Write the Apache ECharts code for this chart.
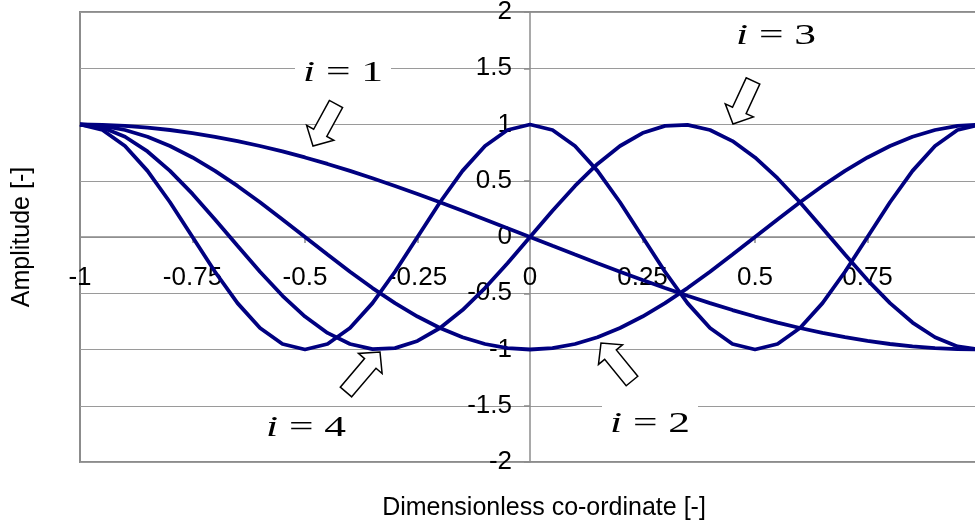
<!DOCTYPE html>
<html>
<head>
<meta charset="utf-8">
<script src="https://cdn.jsdelivr.net/npm/echarts@6/dist/echarts.min.js"></script>
<style>
  html, body { margin: 0; padding: 0; background: #fff; }
  #chart { width: 975px; height: 528px; }
</style>
</head>
<body>
<div id="chart"></div>
<script>
// Sample positions along the dimensionless co-ordinate
var coords = [-1, -0.95, -0.9, -0.85, -0.8, -0.75, -0.7, -0.65, -0.6, -0.55,
  -0.5, -0.45, -0.4, -0.35, -0.3, -0.25, -0.2, -0.15, -0.1, -0.05,
  0, 0.05, 0.1, 0.15, 0.2, 0.25, 0.3, 0.35, 0.4, 0.45,
  0.5, 0.55, 0.6, 0.65, 0.7, 0.75, 0.8, 0.85, 0.9, 0.95, 1];

// Mode shape amplitudes, i = 1..4
var mode1 = [1, 0.9969, 0.9877, 0.9724, 0.9511, 0.9239, 0.891, 0.8526, 0.809, 0.7604,
  0.7071, 0.6494, 0.5878, 0.5225, 0.454, 0.3827, 0.309, 0.2334, 0.1564, 0.0785,
  0, -0.0785, -0.1564, -0.2334, -0.309, -0.3827, -0.454, -0.5225, -0.5878, -0.6494,
  -0.7071, -0.7604, -0.809, -0.8526, -0.891, -0.9239, -0.9511, -0.9724, -0.9877, -0.9969, -1];
var mode2 = [1, 0.9877, 0.9511, 0.891, 0.809, 0.7071, 0.5878, 0.454, 0.309, 0.1564,
  0, -0.1564, -0.309, -0.454, -0.5878, -0.7071, -0.809, -0.891, -0.9511, -0.9877,
  -1, -0.9877, -0.9511, -0.891, -0.809, -0.7071, -0.5878, -0.454, -0.309, -0.1564,
  0, 0.1564, 0.309, 0.454, 0.5878, 0.7071, 0.809, 0.891, 0.9511, 0.9877, 1];
var mode3 = [1, 0.9724, 0.891, 0.7604, 0.5878, 0.3827, 0.1564, -0.0785, -0.309, -0.5225,
  -0.7071, -0.8526, -0.9511, -0.9969, -0.9877, -0.9239, -0.809, -0.6494, -0.454, -0.2334,
  0, 0.2334, 0.454, 0.6494, 0.809, 0.9239, 0.9877, 0.9969, 0.9511, 0.8526,
  0.7071, 0.5225, 0.309, 0.0785, -0.1564, -0.3827, -0.5878, -0.7604, -0.891, -0.9724, -1];
var mode4 = [1, 0.9511, 0.809, 0.5878, 0.309, 0, -0.309, -0.5878, -0.809, -0.9511,
  -1, -0.9511, -0.809, -0.5878, -0.309, 0, 0.309, 0.5878, 0.809, 0.9511,
  1, 0.9511, 0.809, 0.5878, 0.309, 0, -0.309, -0.5878, -0.809, -0.9511,
  -1, -0.9511, -0.809, -0.5878, -0.309, 0, 0.309, 0.5878, 0.809, 0.9511, 1];

var modeNames = ['i = 1', 'i = 2', 'i = 3', 'i = 4'];
var modes = [mode1, mode2, mode3, mode4];

// Axis ranges and tick steps
var xMin = -1, xMax = 1, xStep = 0.25;
var yMin = -2, yMax = 2, yStep = 0.5;

// Plot box in pixels (the right edge runs slightly past the canvas)
var plotLeft = 80, plotTop = 12, plotW = 900, plotH = 450;
var W = 975, H = 528;

var chart = echarts.init(document.getElementById('chart'));

function pairs(values) {
  return coords.map(function (x, k) { return [x, values[k]]; });
}

// Hollow block arrow from a tail point to a tip point
function blockArrow(tx, ty, hx, hy) {
  var shaftW = 15, headW = 31, headL = 15;
  var dx = hx - tx, dy = hy - ty;
  var len = Math.sqrt(dx * dx + dy * dy);
  var ux = dx / len, uy = dy / len;
  var nx = -uy, ny = ux;
  var neckX = hx - ux * headL, neckY = hy - uy * headL;
  var pts = [
    [tx + nx * shaftW / 2, ty + ny * shaftW / 2],
    [neckX + nx * shaftW / 2, neckY + ny * shaftW / 2],
    [neckX + nx * headW / 2, neckY + ny * headW / 2],
    [hx, hy],
    [neckX - nx * headW / 2, neckY - ny * headW / 2],
    [neckX - nx * shaftW / 2, neckY - ny * shaftW / 2],
    [tx - nx * shaftW / 2, ty - ny * shaftW / 2]
  ];
  return {
    type: 'polygon', z: 100,
    shape: { points: pts },
    style: { fill: '#fff', stroke: '#000', lineWidth: 1.5 }
  };
}

// Mode label in math style, with a white box knocking out the gridlines
function modeLabel(num, cx, cy) {
  return [
    {
      type: 'rect', z: 99,
      shape: { x: cx - 48, y: cy - 20, width: 96, height: 40 },
      style: { fill: '#fff' }
    },
    {
      type: 'text', z: 101, x: cx, y: cy, scaleX: 1.45,
      style: {
        text: '{it|i} = ' + num,
        fontFamily: 'Liberation Serif', fontSize: 30, fill: '#000',
        align: 'center', verticalAlign: 'middle',
        rich: { it: { fontStyle: 'italic', fontFamily: 'Liberation Serif', fontSize: 30, fill: '#000' } }
      }
    }
  ];
}

var graphics = []
  .concat(modeLabel('1', 343, 73))
  .concat(modeLabel('3', 776, 36))
  .concat(modeLabel('4', 306, 428))
  .concat(modeLabel('2', 650, 424))
  .concat([
    blockArrow(336, 104, 313, 146),
    blockArrow(753, 81, 733, 124),
    blockArrow(346, 392, 380, 352),
    blockArrow(632, 381, 601, 343),
    {
      type: 'text', z: 101, x: 22, y: 237, rotation: Math.PI / 2,
      style: {
        text: 'Amplitude [-]', fontFamily: 'Liberation Sans', fontSize: 25,
        fill: '#000', align: 'center', verticalAlign: 'middle'
      }
    },
    {
      type: 'text', z: 101, x: 544, y: 508,
      style: {
        text: 'Dimensionless co-ordinate [-]', fontFamily: 'Liberation Sans', fontSize: 25,
        fill: '#000', align: 'center', verticalAlign: 'middle'
      }
    }
  ]);

var axisGray = '#8c8c8c';

// Shift the axes so they cross at the origin, carrying their labels along
var xAxisShift = -plotH * (0 - yMin) / (yMax - yMin);
var yAxisShift = -plotW * (0 - xMin) / (xMax - xMin);

var option = {
  animation: false,
  backgroundColor: '#fff',
  grid: {
    left: plotLeft, top: plotTop, width: plotW, height: plotH,
    outerBoundsMode: 'none', containLabel: false,
    show: true, borderColor: axisGray, borderWidth: 2, backgroundColor: 'transparent'
  },
  xAxis: {
    type: 'value', min: xMin, max: xMax, interval: xStep,
    position: 'bottom', offset: xAxisShift,
    axisLine: { onZero: false, lineStyle: { color: axisGray, width: 1.5 } },
    axisTick: { show: true, length: 6, lineStyle: { color: axisGray, width: 1.5 } },
    splitLine: { show: false },
    axisLabel: {
      margin: 28, fontSize: 26, fontFamily: 'Liberation Sans', color: '#000',
      formatter: function (v) { return v === xMax ? '' : String(v); }
    }
  },
  yAxis: {
    type: 'value', min: yMin, max: yMax, interval: yStep,
    position: 'left', offset: yAxisShift,
    axisLine: { onZero: false, lineStyle: { color: axisGray, width: 1.5 } },
    axisTick: { show: true, length: 6, lineStyle: { color: axisGray, width: 1.5 } },
    splitLine: { show: true, lineStyle: { color: '#9a9a9a', width: 1.2 } },
    axisLabel: {
      margin: 18, fontSize: 26, fontFamily: 'Liberation Sans', color: '#000'
    }
  },
  series: modes.map(function (m, k) {
    return {
      name: modeNames[k],
      type: 'line',
      data: pairs(m),
      showSymbol: false,
      symbol: 'none',
      lineStyle: { color: '#000080', width: 3.8 },
      z: 3
    };
  }),
  graphic: graphics
};

chart.setOption(option);
</script>
</body>
</html>
